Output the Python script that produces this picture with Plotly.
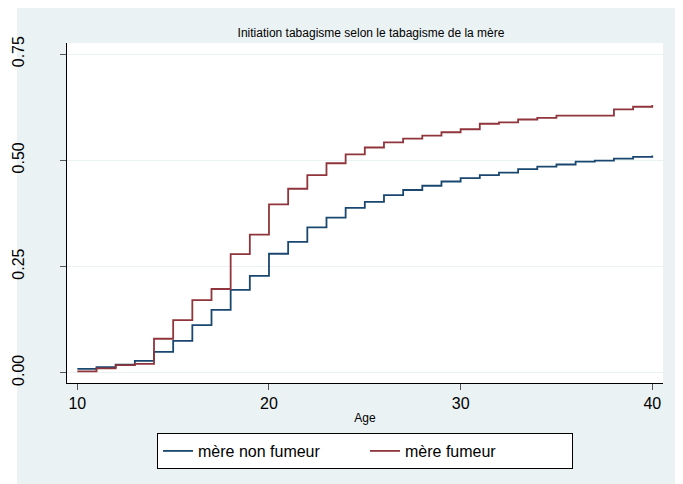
import plotly.graph_objects as go

ages = list(range(10, 41))

mere_non_fumeur = [
    0.009, 0.013, 0.019, 0.028, 0.049, 0.075, 0.112, 0.148, 0.195, 0.228,
    0.280, 0.308, 0.342, 0.365, 0.388, 0.402, 0.418, 0.430, 0.440, 0.450,
    0.458, 0.465, 0.471, 0.479, 0.485, 0.490, 0.497, 0.499, 0.504, 0.508,
    0.511,
]

mere_fumeur = [
    0.003, 0.010, 0.018, 0.021, 0.080, 0.124, 0.171, 0.197, 0.279, 0.325,
    0.396, 0.433, 0.465, 0.493, 0.514, 0.530, 0.542, 0.551, 0.558, 0.566,
    0.573, 0.586, 0.589, 0.596, 0.600, 0.605, 0.605, 0.605, 0.620, 0.626,
    0.630,
]

y_ticks = [0, 0.25, 0.5, 0.75]
y_labels = ["0.00", "0.25", "0.50", "0.75"]
x_ticks = [10, 20, 30, 40]

BG = "#eaf2f3"
FONT = "Liberation Sans, Arial, sans-serif"

# page body keeps an 8px margin, so the figure is 675x476
W, H = 675, 476
L, R, T, B = 59, 20, 35, 101
PW, PH = W - L - R, H - T - B

fig = go.Figure()
fig.add_trace(go.Scatter(
    x=ages, y=mere_non_fumeur, name="mère non fumeur",
    mode="lines", line=dict(shape="hv", color="#1a476f", width=1.8),
))
fig.add_trace(go.Scatter(
    x=ages, y=mere_fumeur, name="mère fumeur",
    mode="lines", line=dict(shape="hv", color="#90353b", width=1.8),
))

fig.update_layout(
    width=W, height=H,
    margin=dict(l=L, r=R, t=T, b=B, autoexpand=False),
    paper_bgcolor=BG,
    plot_bgcolor="white",
    font=dict(family=FONT, color="black"),
    title=dict(
        text="Initiation tabagisme selon le tabagisme de la mère",
        font=dict(size=12), x=363 / W, xanchor="center",
        y=1 - 25 / H, yanchor="middle",
    ),
    showlegend=True,
    legend=dict(
        orientation="h", x=0.5, xanchor="center",
        yref="container", y=1 - 425 / H, yanchor="top",
        bgcolor="white", bordercolor="black", borderwidth=1,
        font=dict(size=16), entrywidth=162,
    ),
    shapes=[
        dict(type="rect", xref="paper", yref="paper", layer="below",
             x0=-L / PW, x1=(9 - L) / PW, y0=-B / PH, y1=(PH + T) / PH,
             fillcolor="white", line_width=0),
    ],
)

fig.update_xaxes(
    range=[9.46, 40.56], tickvals=x_ticks, showgrid=False, zeroline=False,
    showline=True, linecolor="black", linewidth=1, automargin=False,
    ticks="outside", ticklen=6, tickcolor="#555", tickfont=dict(size=16),
    title=dict(text="Age", font=dict(size=12), standoff=2),
)
fig.update_yaxes(
    range=[-0.0242, 0.776], tickvals=y_ticks, ticktext=y_labels,
    showgrid=True, gridcolor=BG, gridwidth=1, zeroline=False,
    showline=True, linecolor="black", linewidth=1, automargin=False,
    ticks="outside", ticklen=6, tickcolor="#555", tickfont=dict(size=16),
    tickangle=-90, ticklabelstandoff=30,
)

fig.write_html("out.html")
